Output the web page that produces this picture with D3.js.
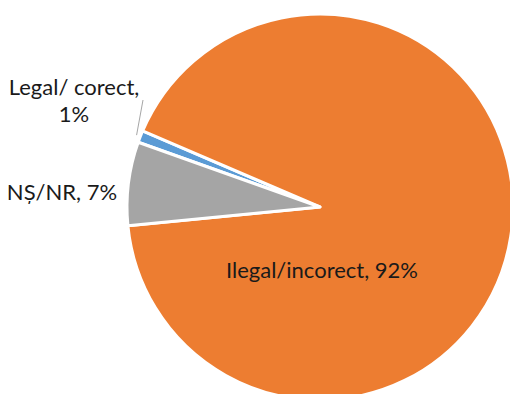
<!doctype html>
<html lang="en">
  <head>
    <meta charset="utf-8">
    <title>Pie chart</title>
    <script src="https://d3js.org/d3.v7.min.js"></script>
    <style>
    body {
      margin: 0;
      background: #fff;
    }

    text {
      font-family: Lato, "Open Sans", sans-serif;
      font-size: 22px;
      fill: #1a1a1a;
    }
    </style>
  </head>

  <body>
    <svg width="510" height="394"></svg>

    <script>
      // data, in the order the slices are drawn (clockwise)
      var categories = ['Legal/ corect', 'Ilegal/incorect', 'NȘ/NR'];
      var values = [1, 92, 7];
      var colors = ['#5B9BD5', '#ED7D31', '#A5A5A5'];

      var width = 510, height = 394;
      var cx = 320, cy = 207, radius = 193;
      var startDeg = 289.6;

      var svg = d3.select('svg');
      var g = svg.append('g')
        .attr('transform', 'translate(' + cx + ',' + cy + ')');

      var pie = d3.pie()
        .sort(null)
        .value(function(d){ return d; })
        .startAngle(startDeg * Math.PI / 180)
        .endAngle((startDeg + 360) * Math.PI / 180);

      var arc = d3.arc()
        .innerRadius(0)
        .outerRadius(radius);

      var slices = pie(values);

      g.selectAll('path')
        .data(slices)
        .enter()
        .append('path')
          .attr('d', arc)
          .attr('fill', function(d, i){ return colors[i]; })
          .attr('stroke', '#fff')
          .attr('stroke-width', 3)
          .attr('stroke-linejoin', 'round');

      // label placement (relative to the pie centre)
      var labels = [
        { lines: [categories[0] + ',', values[0] + '%'], x: -246, y: -112 },
        { lines: [categories[1] + ', ' + values[1] + '%'], x: 2, y: 71 },
        { lines: [categories[2] + ', ' + values[2] + '%'], x: -258, y: -7 }
      ];

      labels.forEach(function(l){
        var t = g.append('text')
          .attr('text-anchor', 'middle')
          .attr('x', l.x)
          .attr('y', l.y);
        l.lines.forEach(function(s, j){
          t.append('tspan')
            .attr('x', l.x)
            .attr('dy', j === 0 ? 0 : 26.5)
            .text(s);
        });
      });

      // leader line for the small slice
      var mid = (slices[0].startAngle + slices[0].endAngle) / 2;
      var r0 = radius + 4;
      g.append('line')
        .attr('x1', Math.sin(mid) * r0)
        .attr('y1', -Math.cos(mid) * r0)
        .attr('x2', -177)
        .attr('y2', -107)
        .attr('stroke', '#a6a6a6')
        .attr('stroke-width', 1);
    </script>
  </body>
</html>
